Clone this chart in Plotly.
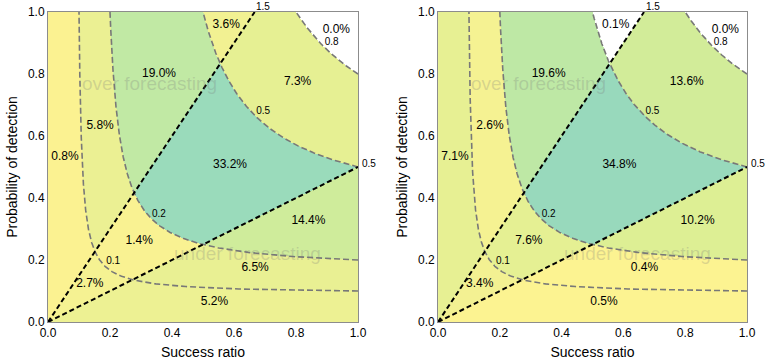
import numpy as np
import plotly.graph_objects as go

# ---- data -------------------------------------------------------------
csi_edges = [0.0, 0.1, 0.2, 0.5, 0.8, 1.01]
csi_levels = [0.1, 0.2, 0.5, 0.8]
bias_levels = [0.5, 1.5]

# region definitions: (csi bin index, bias class) ; class 0 = over (>1.5), 1 = mid, 2 = under (<0.5)
region_csi_bin = [0, 0, 0, 1, 1, 1, 2, 2, 2, 3, 3, 4]
region_bias_cls = [0, 1, 2, 0, 1, 2, 0, 1, 2, 0, 1, 1]
left_pct = [0.8, 2.7, 5.2, 5.8, 1.4, 6.5, 19.0, 33.2, 14.4, 3.6, 7.3, 0.0]
right_pct = [7.1, 3.4, 0.5, 2.6, 7.6, 0.4, 19.6, 34.8, 10.2, 0.1, 13.6, 0.0]
label_x = [0.055, 0.135, 0.537, 0.168, 0.294, 0.668, 0.358, 0.587, 0.84, 0.575, 0.805, 0.93]
label_y = [0.532, 0.123, 0.064, 0.632, 0.262, 0.174, 0.80, 0.508, 0.325, 0.958, 0.773, 0.943]

csi_label_x = [0.21, 0.358, 0.694, 0.915]
csi_label_y = [0.194, 0.348, 0.68, 0.903]

ticks = [0.0, 0.2, 0.4, 0.6, 0.8, 1.0]
tick_text = ["0.0", "0.2", "0.4", "0.6", "0.8", "1.0"]

FONT = "Liberation Sans, Arial, Helvetica, sans-serif"

fig = go.Figure()

N = 420
g = (np.arange(N) + 0.5) / N
SR, POD = np.meshgrid(g, g)
CSI = 1.0 / (1.0 / SR + 1.0 / POD - 1.0)
BIAS = POD / SR
csi_bin = np.digitize(CSI, csi_edges) - 1
bias_cls = np.where(BIAS > 1.5, 0, np.where(BIAS < 0.5, 2, 1))


def region_grid(values):
    z = np.full(CSI.shape, np.nan)
    for cb, bc, v in zip(region_csi_bin, region_bias_cls, values):
        if v < 0.25:
            continue
        mask = (csi_bin == cb) & (bias_cls == bc)
        z[mask] = v
    return z


panels = [(left_pct, "x", "y"), (right_pct, "x2", "y2")]
for values, xa, ya in panels:
    fig.add_trace(go.Heatmap(
        x=g, y=g, z=region_grid(values), colorscale="Viridis", reversescale=True,
        zmin=0, zmax=100, opacity=0.5, showscale=False, hoverinfo="skip",
        xaxis=xa, yaxis=ya))
    # CSI contours (parametrised by POD so the steep parts are smooth)
    for c in csi_levels:
        pod = np.geomspace(c, 1.0, 500)
        sr = 1.0 / (1.0 / c + 1.0 - 1.0 / pod)
        fig.add_trace(go.Scatter(x=sr, y=pod, mode="lines",
                                 line=dict(color="rgb(120,120,120)", width=1.6, dash="6px,3px"),
                                 hoverinfo="skip", showlegend=False, xaxis=xa, yaxis=ya))
    # bias lines
    for b in bias_levels:
        sr_end = min(1.0, 1.0 / b)
        fig.add_trace(go.Scatter(x=[0, sr_end], y=[0, b * sr_end], mode="lines",
                                 line=dict(color="black", width=2, dash="5px,3px"),
                                 hoverinfo="skip", showlegend=False, xaxis=xa, yaxis=ya))
    # percentage labels
    fig.add_trace(go.Scatter(x=label_x, y=label_y, mode="text",
                             text=[f"{v:.1f}%" for v in values],
                             textfont=dict(family=FONT, size=12, color="black"),
                             hoverinfo="skip", showlegend=False, xaxis=xa, yaxis=ya))
    # CSI labels
    fig.add_trace(go.Scatter(x=csi_label_x, y=csi_label_y, mode="text",
                             text=[str(c) for c in csi_levels],
                             textfont=dict(family=FONT, size=10, color="black"),
                             hoverinfo="skip", showlegend=False, xaxis=xa, yaxis=ya))
    # bias labels (domain references so they may sit outside the plotting area)
    fig.add_annotation(x=0.695, y=1.018, xref=f"{xa} domain", yref=f"{ya} domain",
                       xanchor="center", yanchor="middle",
                       text=str(bias_levels[1]), showarrow=False,
                       font=dict(family=FONT, size=10, color="black"))
    fig.add_annotation(x=1.036, y=0.51, xref=f"{xa} domain", yref=f"{ya} domain",
                       xanchor="center", yanchor="middle",
                       text=str(bias_levels[0]), showarrow=False,
                       font=dict(family=FONT, size=10, color="black"))
    # watermarks
    fig.add_annotation(x=0.326, y=0.77, xref=xa, yref=ya, text="over forecasting",
                       xanchor="center", yanchor="middle",
                       showarrow=False, font=dict(family=FONT, size=19, color="rgba(120,120,120,0.25)"))
    fig.add_annotation(x=0.645, y=0.222, xref=xa, yref=ya, text="under forecasting",
                       xanchor="center", yanchor="middle",
                       showarrow=False, font=dict(family=FONT, size=19, color="rgba(120,120,120,0.25)"))

axis_common = dict(range=[0, 1], tickvals=ticks, ticktext=tick_text, showgrid=False, zeroline=False,
                   showline=True, linecolor="rgb(140,140,140)", linewidth=1, mirror=True,
                   ticks="", automargin=False, tickfont=dict(family=FONT, size=12, color="black"))

title_font = dict(family=FONT, size=14, color="black")
fig.update_layout(
    template="none",
    width=765, height=360, margin=dict(l=48, r=18, t=12, b=38),
    paper_bgcolor="white", plot_bgcolor="white", showlegend=False,
    xaxis=dict(domain=[0, 0.4435], title=dict(text="Success ratio", standoff=9, font=title_font), **axis_common),
    yaxis=dict(domain=[0, 1], title=dict(text="Probability of detection", standoff=7, font=title_font), **axis_common),
    xaxis2=dict(domain=[0.558, 1], anchor="y2", title=dict(text="Success ratio", standoff=9, font=title_font), **axis_common),
    yaxis2=dict(domain=[0, 1], anchor="x2", title=dict(text="Probability of detection", standoff=7, font=title_font), **axis_common),
)

fig.write_html("out.html", config={"displayModeBar": False},
               post_script="document.body.style.margin='0';")
